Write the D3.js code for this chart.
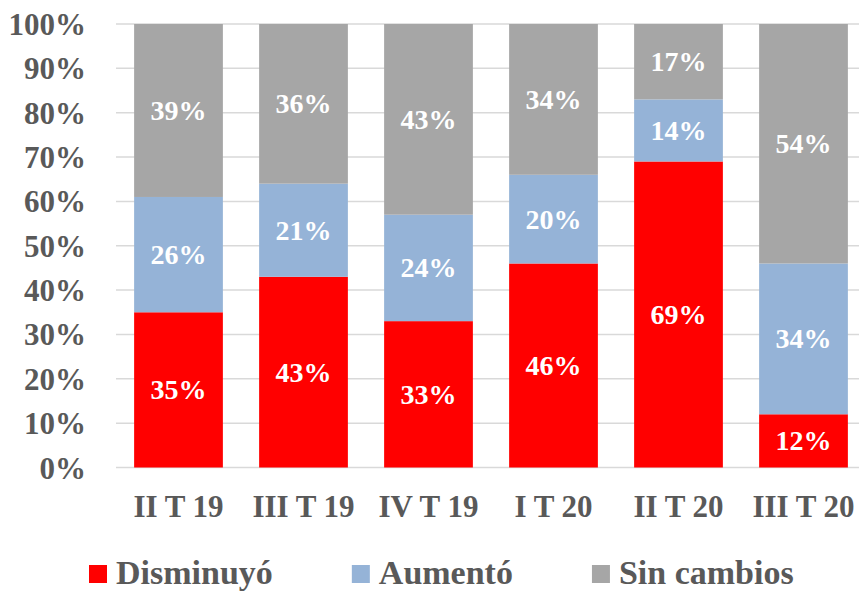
<!DOCTYPE html>
<html>
<head>
<meta charset="utf-8">
<script src="https://cdn.jsdelivr.net/npm/d3@7"></script>
<style>
  body { margin: 0; background: #fff; }
  svg { display: block; font-family: "Liberation Serif", "Times New Roman", serif; font-weight: bold; }
</style>
</head>
<body>
<svg width="859" height="592"></svg>
<script>
const periods = ["II T 19", "III T 19", "IV T 19", "I T 20", "II T 20", "III T 20"];
const seriesNames = ["Disminuyó", "Aumentó", "Sin cambios"];
const colors = ["#ff0000", "#95b3d7", "#a6a6a6"];
const disminuyo = [35, 43, 33, 46, 69, 12];
const aumento = [26, 21, 24, 20, 14, 34];
const sinCambios = [39, 36, 43, 34, 17, 54];
const yTicks = [0, 10, 20, 30, 40, 50, 60, 70, 80, 90, 100];

const svg = d3.select("svg");

// rows for the stack
const rows = periods.map((p, i) => ({
  period: p,
  "Disminuyó": disminuyo[i],
  "Aumentó": aumento[i],
  "Sin cambios": sinCambios[i]
}));
const stacked = d3.stack().keys(seriesNames)(rows);

const x = d3.scaleBand(periods, [116, 866]).paddingInner(0.29).paddingOuter(0.145);
const y = d3.scaleLinear([0, 100], [467.5, 24]);

// gridlines
svg.append("g")
  .selectAll("line")
  .data(yTicks)
  .join("line")
    .attr("x1", 116)
    .attr("x2", 859)
    .attr("y1", d => y(d))
    .attr("y2", d => y(d))
    .attr("stroke", "#d9d9d9")
    .attr("stroke-width", 1.5);

// y axis
svg.append("g")
    .attr("transform", "translate(116,0)")
    .call(d3.axisLeft(y).tickValues(yTicks).tickFormat(d => d + "%").tickSize(0).tickPadding(30))
    .attr("font-family", null)
    .attr("font-size", 31)
    .call(g => g.select(".domain").remove())
    .call(g => g.selectAll("text")
        .attr("fill", "#595959")
        .attr("dy", "0.34em"));

// x axis
svg.append("g")
    .attr("transform", "translate(0,467.5)")
    .call(d3.axisBottom(x).tickSize(0))
    .attr("font-family", null)
    .attr("font-size", 31)
    .call(g => g.select(".domain").remove())
    .call(g => g.selectAll("text")
        .attr("fill", "#595959")
        .attr("y", 49)
        .attr("dy", 0));

// bars
const layer = svg.append("g")
  .selectAll("g")
  .data(stacked)
  .join("g")
    .attr("fill", (d, i) => colors[i]);

layer.selectAll("rect")
  .data(d => d)
  .join("rect")
    .attr("x", d => x(d.data.period))
    .attr("y", d => y(d[1]))
    .attr("width", x.bandwidth())
    .attr("height", d => y(d[0]) - y(d[1]));

layer.selectAll("text")
  .data(d => d)
  .join("text")
    .attr("x", d => x(d.data.period) + x.bandwidth() / 2)
    .attr("y", d => y((d[0] + d[1]) / 2))
    .attr("dy", "0.34em")
    .attr("text-anchor", "middle")
    .attr("fill", "#fff")
    .attr("font-size", 28)
    .text(d => (d[1] - d[0]) + "%");

// legend (raised slightly so descenders stay inside the frame)
const legend = svg.append("g").attr("transform", "translate(89,0)");
let lx = 0;
seriesNames.forEach((name, i) => {
  const item = legend.append("g").attr("transform", `translate(${lx},0)`);
  item.append("rect")
      .attr("x", 0)
      .attr("y", 565)
      .attr("width", 18)
      .attr("height", 18)
      .attr("fill", colors[i]);
  const t = item.append("text")
      .attr("x", 27)
      .attr("y", 584)
      .attr("font-size", 34)
      .attr("fill", "#595959")
      .text(name);
  lx += 27 + t.node().getComputedTextLength() + 79;
});
</script>
</body>
</html>
